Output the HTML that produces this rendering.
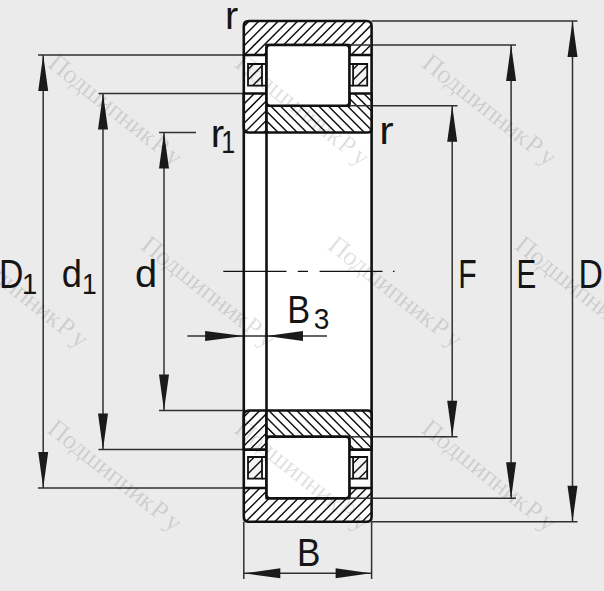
<!DOCTYPE html><html><head><meta charset="utf-8"><style>html,body{margin:0;padding:0;background:#ebebeb;}svg{display:block}</style></head><body>
<svg width="604" height="591" viewBox="0 0 604 591">
<rect width="604" height="591" fill="#ebebeb"/>
<rect x="243.8" y="24.0" width="128.8" height="494.70000000000005" fill="#fff"/>
<line x1="38" y1="55.0" x2="243.8" y2="55.0" stroke="#303030" stroke-width="1.5"/>
<line x1="38" y1="488.0" x2="243.8" y2="488.0" stroke="#303030" stroke-width="1.5"/>
<line x1="98.5" y1="93.5" x2="243.8" y2="93.5" stroke="#303030" stroke-width="1.5"/>
<line x1="98.5" y1="449.6" x2="243.8" y2="449.6" stroke="#303030" stroke-width="1.5"/>
<line x1="159" y1="132.5" x2="196" y2="132.5" stroke="#303030" stroke-width="1.5"/>
<line x1="159" y1="410.5" x2="243.8" y2="410.5" stroke="#303030" stroke-width="1.5"/>
<line x1="371.6" y1="21.0" x2="577.5" y2="21.0" stroke="#303030" stroke-width="1.5"/>
<line x1="371.6" y1="521.7" x2="577.5" y2="521.7" stroke="#303030" stroke-width="1.5"/>
<line x1="371.6" y1="45.0" x2="516" y2="45.0" stroke="#303030" stroke-width="1.5"/>
<line x1="371.6" y1="498.2" x2="516" y2="498.2" stroke="#303030" stroke-width="1.5"/>
<line x1="371.6" y1="105.7" x2="457.5" y2="105.7" stroke="#303030" stroke-width="1.5"/>
<line x1="371.6" y1="436.8" x2="457.5" y2="436.8" stroke="#303030" stroke-width="1.5"/>
<line x1="243.8" y1="521.7" x2="243.8" y2="579" stroke="#303030" stroke-width="1.5"/>
<line x1="371.6" y1="521.7" x2="371.6" y2="579" stroke="#303030" stroke-width="1.5"/>
<line x1="43.2" y1="55.0" x2="43.2" y2="488.0" stroke="#303030" stroke-width="1.5"/>
<path d="M43.2,55.0 L38.2,91.0 L48.2,91.0 Z" fill="#1a1a1a"/>
<path d="M43.2,488.0 L38.2,452.0 L48.2,452.0 Z" fill="#1a1a1a"/>
<line x1="103" y1="93.5" x2="103" y2="449.6" stroke="#303030" stroke-width="1.5"/>
<path d="M103,93.5 L98.0,129.5 L108.0,129.5 Z" fill="#1a1a1a"/>
<path d="M103,449.6 L98.0,413.6 L108.0,413.6 Z" fill="#1a1a1a"/>
<line x1="164" y1="132.5" x2="164" y2="410.5" stroke="#303030" stroke-width="1.5"/>
<path d="M164,132.5 L159.0,168.5 L169.0,168.5 Z" fill="#1a1a1a"/>
<path d="M164,410.5 L159.0,374.5 L169.0,374.5 Z" fill="#1a1a1a"/>
<line x1="452.2" y1="105.7" x2="452.2" y2="436.8" stroke="#303030" stroke-width="1.5"/>
<path d="M452.2,105.7 L447.2,141.7 L457.2,141.7 Z" fill="#1a1a1a"/>
<path d="M452.2,436.8 L447.2,400.8 L457.2,400.8 Z" fill="#1a1a1a"/>
<line x1="511.1" y1="45.0" x2="511.1" y2="498.2" stroke="#303030" stroke-width="1.5"/>
<path d="M511.1,45.0 L506.1,81.0 L516.1,81.0 Z" fill="#1a1a1a"/>
<path d="M511.1,498.2 L506.1,462.2 L516.1,462.2 Z" fill="#1a1a1a"/>
<line x1="572.5" y1="21.0" x2="572.5" y2="521.7" stroke="#303030" stroke-width="1.5"/>
<path d="M572.5,21.0 L567.5,57.0 L577.5,57.0 Z" fill="#1a1a1a"/>
<path d="M572.5,521.7 L567.5,485.70000000000005 L577.5,485.70000000000005 Z" fill="#1a1a1a"/>
<line x1="243.8" y1="573.3" x2="371.6" y2="573.3" stroke="#303030" stroke-width="1.5"/>
<path d="M244.3,573.3 L280.3,568.3 L280.3,578.3 Z" fill="#1a1a1a"/>
<path d="M370.6,573.3 L335.6,568.3 L335.6,578.3 Z" fill="#1a1a1a"/>
<line x1="187.4" y1="336" x2="327" y2="336" stroke="#303030" stroke-width="1.5"/>
<path d="M243.8,336 L205.10000000000002,331.0 L205.10000000000002,341.0 Z" fill="#1a1a1a"/>
<path d="M266.5,336 L303.0,331.0 L303.0,341.0 Z" fill="#1a1a1a"/>
<line x1="243.8" y1="55.0" x2="243.8" y2="488.0" stroke="#111" stroke-width="2.6"/>
<line x1="266.5" y1="55.0" x2="266.5" y2="488.0" stroke="#111" stroke-width="2.6"/>
<line x1="371.6" y1="55.0" x2="371.6" y2="488.0" stroke="#111" stroke-width="2.6"/>
<clipPath id="c1"><path d="M243.8,55.0 L243.8,26.0 Q243.8,21.0 248.8,21.0 L366.6,21.0 Q371.6,21.0 371.6,26.0 L371.6,55.0 L349.4,55.0 L349.4,45.0 L266.5,45.0 L266.5,55.0 Z"/></clipPath>
<g clip-path="url(#c1)"><path d="M243.8,55.0 L243.8,26.0 Q243.8,21.0 248.8,21.0 L366.6,21.0 Q371.6,21.0 371.6,26.0 L371.6,55.0 L349.4,55.0 L349.4,45.0 L266.5,45.0 L266.5,55.0 Z" fill="#fff"/><path d="M190.90,60.0 L234.90,16.0 M200.60,60.0 L244.60,16.0 M210.30,60.0 L254.30,16.0 M220.00,60.0 L264.00,16.0 M229.70,60.0 L273.70,16.0 M239.40,60.0 L283.40,16.0 M249.10,60.0 L293.10,16.0 M258.80,60.0 L302.80,16.0 M268.50,60.0 L312.50,16.0 M278.20,60.0 L322.20,16.0 M287.90,60.0 L331.90,16.0 M297.60,60.0 L341.60,16.0 M307.30,60.0 L351.30,16.0 M317.00,60.0 L361.00,16.0 M326.70,60.0 L370.70,16.0 M336.40,60.0 L380.40,16.0 M346.10,60.0 L390.10,16.0 M355.80,60.0 L399.80,16.0 M365.50,60.0 L409.50,16.0" stroke="#111" stroke-width="1.45"/></g>
<path d="M243.8,55.0 L243.8,26.0 Q243.8,21.0 248.8,21.0 L366.6,21.0 Q371.6,21.0 371.6,26.0 L371.6,55.0 L349.4,55.0 L349.4,45.0 L266.5,45.0 L266.5,55.0 Z" fill="none" stroke="#111" stroke-width="2.6" stroke-linejoin="round"/>
<clipPath id="c2"><path d="M243.8,93.5 L266.5,93.5 L266.5,132.5 L248.8,132.5 Q243.8,132.5 243.8,127.5 Z"/></clipPath>
<g clip-path="url(#c2)"><path d="M243.8,93.5 L266.5,93.5 L266.5,132.5 L248.8,132.5 Q243.8,132.5 243.8,127.5 Z" fill="#fff"/><path d="M191.00,137.5 L240.00,88.5 M200.70,137.5 L249.70,88.5 M210.40,137.5 L259.40,88.5 M220.10,137.5 L269.10,88.5 M229.80,137.5 L278.80,88.5 M239.50,137.5 L288.50,88.5 M249.20,137.5 L298.20,88.5 M258.90,137.5 L307.90,88.5" stroke="#111" stroke-width="1.45"/></g>
<path d="M243.8,93.5 L266.5,93.5 L266.5,132.5 L248.8,132.5 Q243.8,132.5 243.8,127.5 Z" fill="none" stroke="#111" stroke-width="2.6" stroke-linejoin="round"/>
<clipPath id="c3"><path d="M266.5,105.7 L349.4,105.7 L349.4,93.5 L371.6,93.5 L371.6,128.5 Q371.6,132.5 367.6,132.5 L266.5,132.5 Z"/></clipPath>
<g clip-path="url(#c3)"><path d="M266.5,105.7 L349.4,105.7 L349.4,93.5 L371.6,93.5 L371.6,128.5 Q371.6,132.5 367.6,132.5 L266.5,132.5 Z" fill="#fff"/><path d="M214.98,88.5 L263.98,137.5 M224.56,88.5 L273.56,137.5 M234.14,88.5 L283.14,137.5 M243.72,88.5 L292.72,137.5 M253.30,88.5 L302.30,137.5 M262.88,88.5 L311.88,137.5 M272.46,88.5 L321.46,137.5 M282.04,88.5 L331.04,137.5 M291.62,88.5 L340.62,137.5 M301.20,88.5 L350.20,137.5 M310.78,88.5 L359.78,137.5 M320.36,88.5 L369.36,137.5 M329.94,88.5 L378.94,137.5 M339.52,88.5 L388.52,137.5 M349.10,88.5 L398.10,137.5 M358.68,88.5 L407.68,137.5 M368.26,88.5 L417.26,137.5" stroke="#111" stroke-width="1.45"/></g>
<path d="M266.5,105.7 L349.4,105.7 L349.4,93.5 L371.6,93.5 L371.6,128.5 Q371.6,132.5 367.6,132.5 L266.5,132.5 Z" fill="none" stroke="#111" stroke-width="2.6" stroke-linejoin="round"/>
<rect x="266.5" y="45.0" width="82.89999999999998" height="60.7" rx="3.5" fill="#fff" stroke="#111" stroke-width="2.6"/>
<clipPath id="c4"><path d="M248,64.0 H262 V85.7 H248 Z"/></clipPath>
<g clip-path="url(#c4)"><path d="M248,64.0 H262 V85.7 H248 Z" fill="#f3f3f3"/><path d="M219.10,87.7 L244.80,62.0 M229.60,87.7 L255.30,62.0 M240.10,87.7 L265.80,62.0 M250.60,87.7 L276.30,62.0 M261.10,87.7 L286.80,62.0" stroke="#111" stroke-width="1.4"/></g>
<path d="M248,64.0 H262 V85.7 H248 Z" fill="none" stroke="#111" stroke-width="1.8"/>
<path d="M262,64.0 L266.5,64.0 M262,85.7 L266.5,85.7" stroke="#111" stroke-width="1.8"/>
<clipPath id="c5"><path d="M353.1,64.0 H367.2 V85.7 H353.1 Z"/></clipPath>
<g clip-path="url(#c5)"><path d="M353.1,64.0 H367.2 V85.7 H353.1 Z" fill="#f3f3f3"/><path d="M324.20,87.7 L349.90,62.0 M334.70,87.7 L360.40,62.0 M345.20,87.7 L370.90,62.0 M355.70,87.7 L381.40,62.0 M366.20,87.7 L391.90,62.0" stroke="#111" stroke-width="1.4"/></g>
<path d="M353.1,64.0 H367.2 V85.7 H353.1 Z" fill="none" stroke="#111" stroke-width="1.8"/>
<path d="M349.4,64.0 L353.1,64.0 M349.4,85.7 L353.1,85.7" stroke="#111" stroke-width="1.8"/>
<clipPath id="c6"><path d="M243.8,488.0 L243.8,516.7 Q243.8,521.7 248.8,521.7 L366.6,521.7 Q371.6,521.7 371.6,516.7 L371.6,488.0 L349.4,488.0 L349.4,498.2 L266.5,498.2 L266.5,488.0 Z"/></clipPath>
<g clip-path="url(#c6)"><path d="M243.8,488.0 L243.8,516.7 Q243.8,521.7 248.8,521.7 L366.6,521.7 Q371.6,521.7 371.6,516.7 L371.6,488.0 L349.4,488.0 L349.4,498.2 L266.5,498.2 L266.5,488.0 Z" fill="#fff"/><path d="M192.20,526.7 L235.90,483.0 M201.90,526.7 L245.60,483.0 M211.60,526.7 L255.30,483.0 M221.30,526.7 L265.00,483.0 M231.00,526.7 L274.70,483.0 M240.70,526.7 L284.40,483.0 M250.40,526.7 L294.10,483.0 M260.10,526.7 L303.80,483.0 M269.80,526.7 L313.50,483.0 M279.50,526.7 L323.20,483.0 M289.20,526.7 L332.90,483.0 M298.90,526.7 L342.60,483.0 M308.60,526.7 L352.30,483.0 M318.30,526.7 L362.00,483.0 M328.00,526.7 L371.70,483.0 M337.70,526.7 L381.40,483.0 M347.40,526.7 L391.10,483.0 M357.10,526.7 L400.80,483.0 M366.80,526.7 L410.50,483.0" stroke="#111" stroke-width="1.45"/></g>
<path d="M243.8,488.0 L243.8,516.7 Q243.8,521.7 248.8,521.7 L366.6,521.7 Q371.6,521.7 371.6,516.7 L371.6,488.0 L349.4,488.0 L349.4,498.2 L266.5,498.2 L266.5,488.0 Z" fill="none" stroke="#111" stroke-width="2.6" stroke-linejoin="round"/>
<clipPath id="c7"><path d="M243.8,449.6 L266.5,449.6 L266.5,410.5 L248.8,410.5 Q243.8,410.5 243.8,415.5 Z"/></clipPath>
<g clip-path="url(#c7)"><path d="M243.8,449.6 L266.5,449.6 L266.5,410.5 L248.8,410.5 Q243.8,410.5 243.8,415.5 Z" fill="#fff"/><path d="M186.70,454.6 L235.80,405.5 M196.40,454.6 L245.50,405.5 M206.10,454.6 L255.20,405.5 M215.80,454.6 L264.90,405.5 M225.50,454.6 L274.60,405.5 M235.20,454.6 L284.30,405.5 M244.90,454.6 L294.00,405.5 M254.60,454.6 L303.70,405.5 M264.30,454.6 L313.40,405.5" stroke="#111" stroke-width="1.45"/></g>
<path d="M243.8,449.6 L266.5,449.6 L266.5,410.5 L248.8,410.5 Q243.8,410.5 243.8,415.5 Z" fill="none" stroke="#111" stroke-width="2.6" stroke-linejoin="round"/>
<clipPath id="c8"><path d="M266.5,436.8 L349.4,436.8 L349.4,449.6 L371.6,449.6 L371.6,414.5 Q371.6,410.5 367.6,410.5 L266.5,410.5 Z"/></clipPath>
<g clip-path="url(#c8)"><path d="M266.5,436.8 L349.4,436.8 L349.4,449.6 L371.6,449.6 L371.6,414.5 Q371.6,410.5 367.6,410.5 L266.5,410.5 Z" fill="#fff"/><path d="M207.82,405.5 L256.92,454.6 M217.14,405.5 L266.24,454.6 M226.46,405.5 L275.56,454.6 M235.78,405.5 L284.88,454.6 M245.10,405.5 L294.20,454.6 M254.42,405.5 L303.52,454.6 M263.74,405.5 L312.84,454.6 M273.06,405.5 L322.16,454.6 M282.38,405.5 L331.48,454.6 M291.70,405.5 L340.80,454.6 M301.02,405.5 L350.12,454.6 M310.34,405.5 L359.44,454.6 M319.66,405.5 L368.76,454.6 M328.98,405.5 L378.08,454.6 M338.30,405.5 L387.40,454.6 M347.62,405.5 L396.72,454.6 M356.94,405.5 L406.04,454.6 M366.26,405.5 L415.36,454.6" stroke="#111" stroke-width="1.45"/></g>
<path d="M266.5,436.8 L349.4,436.8 L349.4,449.6 L371.6,449.6 L371.6,414.5 Q371.6,410.5 367.6,410.5 L266.5,410.5 Z" fill="none" stroke="#111" stroke-width="2.6" stroke-linejoin="round"/>
<rect x="266.5" y="436.8" width="82.89999999999998" height="61.39999999999998" rx="3.5" fill="#fff" stroke="#111" stroke-width="2.6"/>
<clipPath id="c9"><path d="M248,457.0 H262 V478.7 H248 Z"/></clipPath>
<g clip-path="url(#c9)"><path d="M248,457.0 H262 V478.7 H248 Z" fill="#f3f3f3"/><path d="M220.10,480.7 L245.80,455.0 M230.60,480.7 L256.30,455.0 M241.10,480.7 L266.80,455.0 M251.60,480.7 L277.30,455.0 M262.10,480.7 L287.80,455.0" stroke="#111" stroke-width="1.4"/></g>
<path d="M248,457.0 H262 V478.7 H248 Z" fill="none" stroke="#111" stroke-width="1.8"/>
<path d="M262,457.0 L266.5,457.0 M262,478.7 L266.5,478.7" stroke="#111" stroke-width="1.8"/>
<clipPath id="c10"><path d="M353.1,457.0 H367.2 V478.7 H353.1 Z"/></clipPath>
<g clip-path="url(#c10)"><path d="M353.1,457.0 H367.2 V478.7 H353.1 Z" fill="#f3f3f3"/><path d="M325.20,480.7 L350.90,455.0 M335.70,480.7 L361.40,455.0 M346.20,480.7 L371.90,455.0 M356.70,480.7 L382.40,455.0 M367.20,480.7 L392.90,455.0" stroke="#111" stroke-width="1.4"/></g>
<path d="M353.1,457.0 H367.2 V478.7 H353.1 Z" fill="none" stroke="#111" stroke-width="1.8"/>
<path d="M349.4,457.0 L353.1,457.0 M349.4,478.7 L353.1,478.7" stroke="#111" stroke-width="1.8"/>
<line x1="349.4" y1="45.0" x2="371.6" y2="45.0" stroke="#303030" stroke-width="1.5"/>
<line x1="349.4" y1="498.2" x2="371.6" y2="498.2" stroke="#303030" stroke-width="1.5"/>
<line x1="349.4" y1="105.7" x2="371.6" y2="105.7" stroke="#303030" stroke-width="1.5"/>
<line x1="349.4" y1="436.8" x2="371.6" y2="436.8" stroke="#303030" stroke-width="1.5"/>
<path d="M223.3,271.3 H286.5 M297.8,271.3 H308 M319.6,271.3 H382.5 M393,271.3 H394.5" stroke="#111" stroke-width="1.3"/>
<text transform="matrix(0.3373,0,0,0.3986,-1.00,287.60)" font-family="Liberation Sans" font-size="100" fill="#151515">D</text>
<text transform="matrix(0.2744,0,0,0.3000,21.90,293.50)" font-family="Liberation Sans" font-size="100" fill="#151515">1</text>
<text transform="matrix(0.3622,0,0,0.3892,61.65,287.41)" font-family="Liberation Sans" font-size="100" fill="#151515">d</text>
<text transform="matrix(0.2651,0,0,0.3000,82.08,293.50)" font-family="Liberation Sans" font-size="100" fill="#151515">1</text>
<text transform="matrix(0.3978,0,0,0.3932,134.91,287.41)" font-family="Liberation Sans" font-size="100" fill="#151515">d</text>
<text transform="matrix(0.3020,0,0,0.4043,458.18,288.00)" font-family="Liberation Sans" font-size="100" fill="#151515">F</text>
<text transform="matrix(0.2963,0,0,0.4043,516.53,288.00)" font-family="Liberation Sans" font-size="100" fill="#151515">E</text>
<text transform="matrix(0.3373,0,0,0.4043,578.60,288.00)" font-family="Liberation Sans" font-size="100" fill="#151515">D</text>
<text transform="matrix(0.3434,0,0,0.3957,287.25,322.70)" font-family="Liberation Sans" font-size="100" fill="#151515">B</text>
<text transform="matrix(0.2809,0,0,0.2972,313.68,328.60)" font-family="Liberation Sans" font-size="100" fill="#151515">3</text>
<text transform="matrix(0.3509,0,0,0.3971,296.99,565.50)" font-family="Liberation Sans" font-size="100" fill="#151515">B</text>
<text transform="matrix(0.3960,0,0,0.3833,225.03,28.60)" font-family="Liberation Sans" font-size="100" fill="#151515">r</text>
<text transform="matrix(0.4040,0,0,0.3833,210.67,146.50)" font-family="Liberation Sans" font-size="100" fill="#151515">r</text>
<text transform="matrix(0.2512,0,0,0.3043,221.29,152.60)" font-family="Liberation Sans" font-size="100" fill="#151515">1</text>
<text transform="matrix(0.4320,0,0,0.3833,379.18,143.80)" font-family="Liberation Sans" font-size="100" fill="#151515">r</text>
<text transform="translate(46.5,66.0) rotate(38.4)" font-family="Liberation Serif" font-size="26.2" letter-spacing="-0.45" fill="#000" fill-opacity="0.13">Подшипник<tspan dx="1.5">Р</tspan><tspan dx="4.5">у</tspan></text>
<text transform="translate(233.5,66.0) rotate(38.4)" font-family="Liberation Serif" font-size="26.2" letter-spacing="-0.45" fill="#000" fill-opacity="0.13">Подшипник<tspan dx="1.5">Р</tspan><tspan dx="4.5">у</tspan></text>
<text transform="translate(420.5,66.0) rotate(38.4)" font-family="Liberation Serif" font-size="26.2" letter-spacing="-0.45" fill="#000" fill-opacity="0.13">Подшипник<tspan dx="1.5">Р</tspan><tspan dx="4.5">у</tspan></text>
<text transform="translate(-47.5,248.0) rotate(38.4)" font-family="Liberation Serif" font-size="26.2" letter-spacing="-0.45" fill="#000" fill-opacity="0.13">Подшипник<tspan dx="1.5">Р</tspan><tspan dx="4.5">у</tspan></text>
<text transform="translate(139.5,248.0) rotate(38.4)" font-family="Liberation Serif" font-size="26.2" letter-spacing="-0.45" fill="#000" fill-opacity="0.13">Подшипник<tspan dx="1.5">Р</tspan><tspan dx="4.5">у</tspan></text>
<text transform="translate(326.5,248.0) rotate(38.4)" font-family="Liberation Serif" font-size="26.2" letter-spacing="-0.45" fill="#000" fill-opacity="0.13">Подшипник<tspan dx="1.5">Р</tspan><tspan dx="4.5">у</tspan></text>
<text transform="translate(513.5,248.0) rotate(38.4)" font-family="Liberation Serif" font-size="26.2" letter-spacing="-0.45" fill="#000" fill-opacity="0.13">Подшипник<tspan dx="1.5">Р</tspan><tspan dx="4.5">у</tspan></text>
<text transform="translate(46.0,431.5) rotate(38.4)" font-family="Liberation Serif" font-size="26.2" letter-spacing="-0.45" fill="#000" fill-opacity="0.13">Подшипник<tspan dx="1.5">Р</tspan><tspan dx="4.5">у</tspan></text>
<text transform="translate(233.0,431.5) rotate(38.4)" font-family="Liberation Serif" font-size="26.2" letter-spacing="-0.45" fill="#000" fill-opacity="0.13">Подшипник<tspan dx="1.5">Р</tspan><tspan dx="4.5">у</tspan></text>
<text transform="translate(420.0,431.5) rotate(38.4)" font-family="Liberation Serif" font-size="26.2" letter-spacing="-0.45" fill="#000" fill-opacity="0.13">Подшипник<tspan dx="1.5">Р</tspan><tspan dx="4.5">у</tspan></text>
</svg></body></html>
